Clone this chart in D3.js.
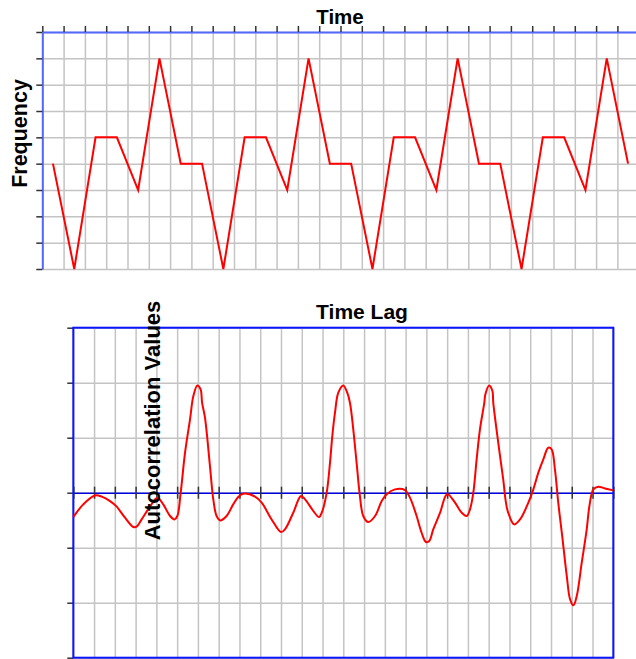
<!DOCTYPE html>
<html>
<head>
<meta charset="utf-8">
<script src="https://cdn.jsdelivr.net/npm/d3@7"></script>
<style>
  html, body { margin: 0; padding: 0; background: #fff; }
  svg { display: block; }
  text { font-family: "Liberation Sans", Arial, sans-serif; font-weight: bold; }
</style>
</head>
<body>
<svg id="chart" width="636" height="659"></svg>
<script>
// ---------- DATA ----------
// Top chart: frequency over time (28 samples)
const timeIndex = [0,1,2,3,4,5,6,7,8,9,10,11,12,13,14,15,16,17,18,19,20,21,22,23,24,25,26,27];
const frequency = [4,0,5,5,3,8,4, 4,0,5,5,3,8,4, 4,0,5,5,3,8,4, 4,0,5,5,3,8,4];
const freqTicks = [0,1,2,3,4,5,6,7,8,9];
const timeTicks = [0,1,2,3,4,5,6,7,8,9,10,11,12,13,14,15,16,17,18,19,20,21,22,23,24,25,26,27,28];

// Bottom chart: autocorrelation traced along the time lag
const lags = [0,0.48,1.04,1.37,1.77,2.09,2.49,2.89,3.05,3.29,3.69,4.05,4.33,4.66,4.87,5.01,5.17,5.38,5.62,5.78,5.97,6.13,6.2,6.34,6.58,6.74,6.9,7.08,7.38,7.7,7.95,8.19,8.75,9.07,9.55,10.0,10.19,10.59,10.96,11.16,11.56,11.83,11.99,12.2,12.36,12.47,12.6,12.76,13.0,13.19,13.32,13.48,13.64,13.8,13.96,14.2,14.53,14.85,15.09,15.49,15.97,16.21,16.53,16.77,16.98,17.14,17.33,17.66,17.94,18.05,18.38,18.7,18.94,19.1,19.26,19.42,19.58,19.79,19.84,20.02,20.18,20.22,20.46,20.7,20.82,20.94,21.23,21.51,21.91,22.15,22.39,22.63,22.87,23.03,23.19,23.35,23.54,23.76,23.92,24.08,24.24,24.48,24.72,24.85,25.04,25.28,25.6,26.0];
const acf = [-0.222,-0.106,-0.025,-0.036,-0.076,-0.127,-0.227,-0.312,-0.309,-0.243,-0.127,-0.045,-0.106,-0.212,-0.243,-0.212,0,0.364,0.667,0.878,0.975,0.939,0.818,0.682,0.242,-0.061,-0.212,-0.252,-0.212,-0.106,-0.036,-0.009,-0.036,-0.091,-0.243,-0.358,-0.333,-0.182,-0.03,-0.061,-0.167,-0.222,-0.167,0,0.273,0.515,0.727,0.909,0.975,0.909,0.818,0.576,0.273,-0.03,-0.212,-0.267,-0.212,-0.076,-0.015,0.03,0.024,-0.045,-0.212,-0.364,-0.448,-0.439,-0.333,-0.182,-0.024,-0.015,-0.091,-0.182,-0.212,-0.152,0,0.303,0.576,0.818,0.894,0.975,0.924,0.818,0.455,0.121,-0.076,-0.182,-0.288,-0.243,-0.091,0.03,0.182,0.303,0.409,0.394,0.212,-0.091,-0.394,-0.758,-0.97,-1.024,-0.939,-0.636,-0.333,-0.121,0.03,0.055,0.039,0.021];
const acfTicks = [-1.5,-1,-0.5,0,0.5,1,1.5];
const lagTicks = [0,1,2,3,4,5,6,7,8,9,10,11,12,13,14,15,16,17,18,19,20,21,22,23,24,25,26];

// ---------- DRAW ----------
const svg = d3.select("#chart");
const gridColor = "#c4c4c4";
const tickColor = "#333";

// ===== Top chart =====
const xT = d3.scaleLinear().domain([0, 28]).range([42.3, 638.7]);
const yT = d3.scaleLinear().domain([0, 9]).range([269, 32]);
const topG = svg.append("g");

// grids
topG.append("g")
  .attr("transform", `translate(0,${yT(9)})`)
  .call(d3.axisBottom(xT).tickValues(timeTicks).tickSize(yT(0) - yT(9)).tickFormat(""))
  .call(g => g.select(".domain").remove())
  .call(g => g.selectAll("line").attr("stroke", gridColor).attr("stroke-width", 1.5));
topG.append("g")
  .attr("transform", `translate(${xT(0)},0)`)
  .call(d3.axisRight(yT).tickValues(freqTicks).tickSize(xT(28) - xT(0)).tickFormat(""))
  .call(g => g.select(".domain").remove())
  .call(g => g.selectAll("line").attr("stroke", gridColor).attr("stroke-width", 1.5));

// axes
topG.append("g")
  .attr("transform", `translate(0,${yT(9)})`)
  .call(d3.axisTop(xT).tickValues(timeTicks).tickSize(6).tickSizeOuter(0).tickFormat(""))
  .call(g => g.select(".domain").attr("stroke", "#5468ff").attr("stroke-width", 2))
  .call(g => g.selectAll(".tick line").attr("stroke", tickColor).attr("stroke-width", 1.5));
topG.append("g")
  .attr("transform", `translate(${xT(0)},0)`)
  .call(d3.axisLeft(yT).tickValues(freqTicks).tickSize(6).tickSizeOuter(0).tickFormat(""))
  .call(g => g.select(".domain").attr("stroke", "#5468ff").attr("stroke-width", 2))
  .call(g => g.selectAll(".tick line").attr("stroke", tickColor).attr("stroke-width", 1.5));

topG.append("path")
  .datum(timeIndex.map((t, i) => [t + 0.5, frequency[i]]))
  .attr("fill", "none")
  .attr("stroke", "#ff0000")
  .attr("stroke-width", 2)
  .attr("d", d3.line().x(d => xT(d[0])).y(d => yT(d[1])));

topG.append("text")
  .attr("x", 340).attr("y", 24)
  .attr("text-anchor", "middle")
  .attr("font-size", 20.5)
  .text("Time");
topG.append("text")
  .attr("transform", "translate(26.5,133.5) rotate(-90)")
  .attr("text-anchor", "middle")
  .attr("font-size", 21.5)
  .text("Frequency");

// ===== Bottom chart =====
const xB = d3.scaleLinear().domain([0, 26]).range([73.3, 613.3]);
const yB = d3.scaleLinear().domain([-1.5, 1.5]).range([657.7, 327.7]);
const botG = svg.append("g");

botG.append("g")
  .attr("transform", `translate(0,${yB(1.5)})`)
  .call(d3.axisBottom(xB).tickValues(lagTicks).tickSize(yB(-1.5) - yB(1.5)).tickFormat(""))
  .call(g => g.select(".domain").remove())
  .call(g => g.selectAll("line").attr("stroke", gridColor).attr("stroke-width", 1.5));
botG.append("g")
  .attr("transform", `translate(${xB(0)},0)`)
  .call(d3.axisRight(yB).tickValues(acfTicks).tickSize(xB(26) - xB(0)).tickFormat(""))
  .call(g => g.select(".domain").remove())
  .call(g => g.selectAll("line").attr("stroke", gridColor).attr("stroke-width", 1.5));

// left ticks
botG.append("g")
  .attr("transform", `translate(${xB(0)},0)`)
  .call(d3.axisLeft(yB).tickValues(acfTicks).tickSize(6).tickSizeOuter(0).tickFormat(""))
  .call(g => g.select(".domain").remove())
  .call(g => g.selectAll(".tick line").attr("stroke", tickColor).attr("stroke-width", 1.5));

// zero line with crossing ticks
botG.append("g")
  .attr("transform", `translate(0,${yB(0)})`)
  .call(d3.axisTop(xB).tickValues(lagTicks).tickSize(6).tickSizeOuter(0).tickFormat(""))
  .call(g => g.select(".domain").remove())
  .call(g => g.selectAll(".tick line").attr("stroke", tickColor).attr("stroke-width", 1.5));
botG.append("g")
  .attr("transform", `translate(0,${yB(0)})`)
  .call(d3.axisBottom(xB).tickValues(lagTicks).tickSize(6).tickSizeOuter(0).tickFormat(""))
  .call(g => g.select(".domain").attr("stroke", "#0000dd").attr("stroke-width", 1.5))
  .call(g => g.selectAll(".tick line").attr("stroke", tickColor).attr("stroke-width", 1.5));

// frame
botG.append("rect")
  .attr("x", xB(0)).attr("y", yB(1.5))
  .attr("width", xB(26) - xB(0)).attr("height", yB(-1.5) - yB(1.5))
  .attr("fill", "none").attr("stroke", "#0a14ff").attr("stroke-width", 2);

botG.append("path")
  .datum(lags.map((l, i) => [l, acf[i]]))
  .attr("fill", "none")
  .attr("stroke", "#ff0000")
  .attr("stroke-width", 2)
  .attr("d", d3.line().curve(d3.curveCatmullRom.alpha(0.5)).x(d => xB(d[0])).y(d => yB(d[1])));

botG.append("text")
  .attr("x", 362).attr("y", 318.5)
  .attr("text-anchor", "middle")
  .attr("font-size", 21)
  .text("Time Lag");
botG.append("text")
  .attr("transform", "translate(159.5,420.5) rotate(-90)")
  .attr("text-anchor", "middle")
  .attr("font-size", 22)
  .text("Autocorrelation Values");
</script>
</body>
</html>
